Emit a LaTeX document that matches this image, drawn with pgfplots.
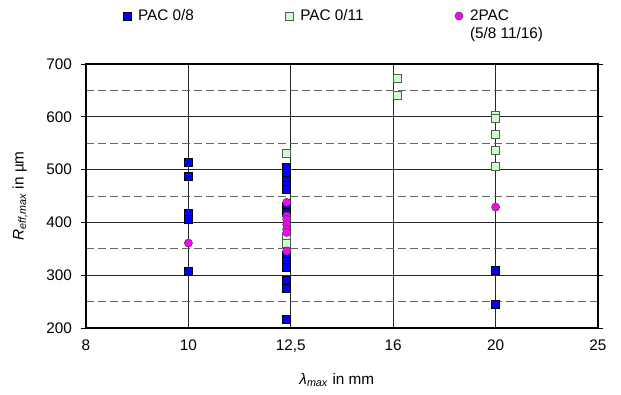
\documentclass[border=0pt]{standalone}
\usepackage{pgfplots}
\pgfplotsset{compat=1.18}
\usepackage{fontspec}
\setmainfont{Liberation Sans}
\definecolor{pacblue}{RGB}{0,0,255}
\definecolor{pacgreen}{RGB}{204,255,204}
\definecolor{pacmag}{RGB}{255,0,255}
\begin{document}
\fontsize{11.5}{13.8}\selectfont
\begin{tikzpicture}
\useasboundingbox (-64.5pt,-49.5pt) rectangle (401.25pt,246pt);
\begin{axis}[
  at={(0,0)}, anchor=south west,
  scale only axis, width=384pt, height=198pt,
  xmin=0, xmax=5, ymin=200, ymax=700,
  xtick={0,1,2,3,4,5}, xticklabels={8,10,{12,5},16,20,25},
  ytick={200,300,...,700}, minor ytick={250,350,...,650},
  xmajorgrids, ymajorgrids, yminorgrids,
  major grid style={black!85, line width=0.6pt},
  minor grid style={black!60, dash pattern=on 6pt off 3pt, line width=0.6pt},
  axis line style={black, line width=0.8pt},
  tick style={black, line width=0.6pt},
  tick align=outside,
  major tick length=4pt, minor tick length=0pt,
  x tick style={draw=none},
  /pgf/number format/assume math mode=true,
  ticklabel style={font=\fontsize{11.5}{13.8}\selectfont},
  yticklabel style={xshift=-2.5pt},
  xticklabel style={yshift=-1pt},
  every axis x label/.style={at={(axis description cs:0.49,-0.197)}, anchor=center},
  every axis y label/.style={at={(axis description cs:-0.1289,0.5)}, rotate=90, anchor=center},
  xlabel={\textit{λ}\textsubscript{\textit{max}} in mm},
  ylabel={\textit{R}\textsubscript{\textit{eff,max}} in µm},
  legend columns=3,
  legend cell align=left,
  legend image code/.code={\draw[#1] plot coordinates {(0pt,0pt)};},
  legend style={draw=none, fill=none, inner sep=0pt, outer sep=0pt,
    at={(axis description cs:0.0723,1.1818)}, anchor=west,
    nodes={inner sep=2pt},
    font=\fontsize{11.5}{13.8}\selectfont,
    /tikz/every odd column/.append style={column sep=3.25pt},
    /tikz/every even column/.append style={column sep=66.5pt}},
]
\addplot[only marks, mark=square*, mark size=3pt,
  mark options={fill=pacblue, draw=black, line width=0.5pt}] coordinates {
  (1,513) (1,488) (1,418) (1,405) (1,307)
  (1.96,505) (1.96,492) (1.96,480) (1.96,470) (1.96,462) (1.96,430) (1.96,420)
  (1.96,338) (1.96,326) (1.96,314) (1.96,291) (1.96,275) (1.96,216)
  (4,309) (4,244)
};
\addlegendentry{PAC 0/8}
\addplot[only marks, mark=square*, mark size=3pt,
  mark options={fill=pacgreen, draw=black!65, line width=0.5pt}] coordinates {
  (1.96,530) (1.96,372) (1.96,360)
  (3.04,672) (3.04,641)
  (4,602) (4,597) (4,567) (4,537) (4,507)
};
\addlegendentry{PAC 0/11}
\addplot[only marks, mark=*, mark size=3pt,
  mark options={fill=pacmag, draw=black!70, line width=0.5pt}] coordinates {
  (1,361)
  (1.96,438) (1.96,412) (1.96,406) (1.96,396) (1.96,387) (1.96,381) (1.96,346)
  (4,429)
};
\addlegendentry{\raisebox{0pt}[\height][0pt]{\parbox[t]{3cm}{2PAC\\(5/8 11/16)}}}
\end{axis}
\end{tikzpicture}
\end{document}
